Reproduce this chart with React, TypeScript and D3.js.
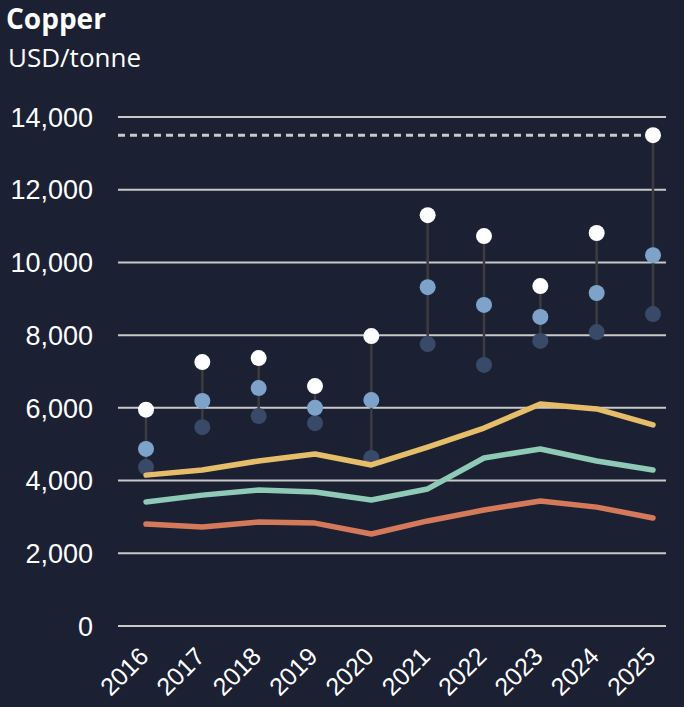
import React from "react";
import * as d3 from "d3";

const width = 684;
const height = 707;

const years = ["2016", "2017", "2018", "2019", "2020", "2021", "2022", "2023", "2024", "2025"];
const maxPrice = [5950, 7260, 7370, 6600, 7975, 11300, 10725, 9350, 10810, 13500];
const avgPrice = [4870, 6190, 6545, 6000, 6215, 9320, 8830, 8500, 9160, 10200];
const minPrice = [4370, 5470, 5775, 5580, 4620, 7755, 7180, 7840, 8085, 8580];
const yellowSeries = [4150, 4290, 4540, 4730, 4430, 4920, 5445, 6105, 5970, 5530];
const greenSeries = [3410, 3600, 3740, 3685, 3465, 3770, 4620, 4870, 4540, 4290];
const redSeries = [2805, 2720, 2860, 2830, 2530, 2890, 3190, 3440, 3270, 2970];
const yTicks = [0, 2000, 4000, 6000, 8000, 10000, 12000, 14000];
const refLevel = 13500;

const bg = "#1b2033";

export default function App() {
  const x = d3.scalePoint<string>().domain(years).range([146, 653]);
  const y = d3.scaleLinear().domain([0, 14000]).range([626, 117]);
  const fmt = d3.format(",");

  const line = d3
    .line<number>()
    .x((_, i) => x(years[i])!)
    .y((d) => y(d));

  const lines = [
    { data: yellowSeries, color: "#e6be6a" },
    { data: greenSeries, color: "#8ecab6" },
    { data: redSeries, color: "#d47a5b" },
  ];

  return (
    <div style={{ position: "fixed", left: 0, top: 0 }}>
      <svg width={width} height={height} style={{ display: "block", background: bg }}>
        <rect width={width} height={height} fill={bg} />
        <text x={6} y={29} fill="#fff" fontFamily="Open Sans, sans-serif" fontWeight={700} fontSize={28}>
          Copper
        </text>
        <text x={8} y={67} fill="#fff" fontFamily="Open Sans, sans-serif" fontSize={26}>
          USD/tonne
        </text>

        {yTicks.map((t) => (
          <g key={t}>
            <line x1={118} x2={666} y1={y(t)} y2={y(t)} stroke="#c9c9c9" strokeWidth={2} />
            <text
              x={93}
              y={y(t)}
              dy="0.36em"
              textAnchor="end"
              fill="#fff"
              fontFamily="Liberation Sans, Arial, sans-serif"
              fontSize={27}
            >
              {fmt(t)}
            </text>
          </g>
        ))}

        <line
          x1={118}
          x2={x("2025")!}
          y1={y(refLevel)}
          y2={y(refLevel)}
          stroke="#c9c9c9"
          strokeWidth={3}
          strokeDasharray="7,5"
        />

        {years.map((yr, i) => (
          <line
            key={yr}
            x1={x(yr)!}
            x2={x(yr)!}
            y1={y(maxPrice[i])}
            y2={y(minPrice[i])}
            stroke="#3d3d3f"
            strokeWidth={2.5}
          />
        ))}

        {years.map((yr, i) => (
          <g key={"d" + yr}>
            <circle cx={x(yr)!} cy={y(minPrice[i])} r={8} fill="#394a69" />
            <circle cx={x(yr)!} cy={y(avgPrice[i])} r={8} fill="#7ea3ca" />
            <circle cx={x(yr)!} cy={y(maxPrice[i])} r={8} fill="#ffffff" />
          </g>
        ))}

        {lines.map((l) => (
          <path
            key={l.color}
            d={line(l.data) ?? ""}
            fill="none"
            stroke={l.color}
            strokeWidth={5.5}
            strokeLinejoin="round"
            strokeLinecap="round"
          />
        ))}

        {years.map((yr) => (
          <text
            key={"t" + yr}
            transform={`translate(${x(yr)! + 4},${658}) rotate(-45)`}
            textAnchor="end"
            fill="#fff"
            fontFamily="Liberation Sans, Arial, sans-serif"
            fontSize={25}
          >
            {yr}
          </text>
        ))}
      </svg>
    </div>
  );
}
